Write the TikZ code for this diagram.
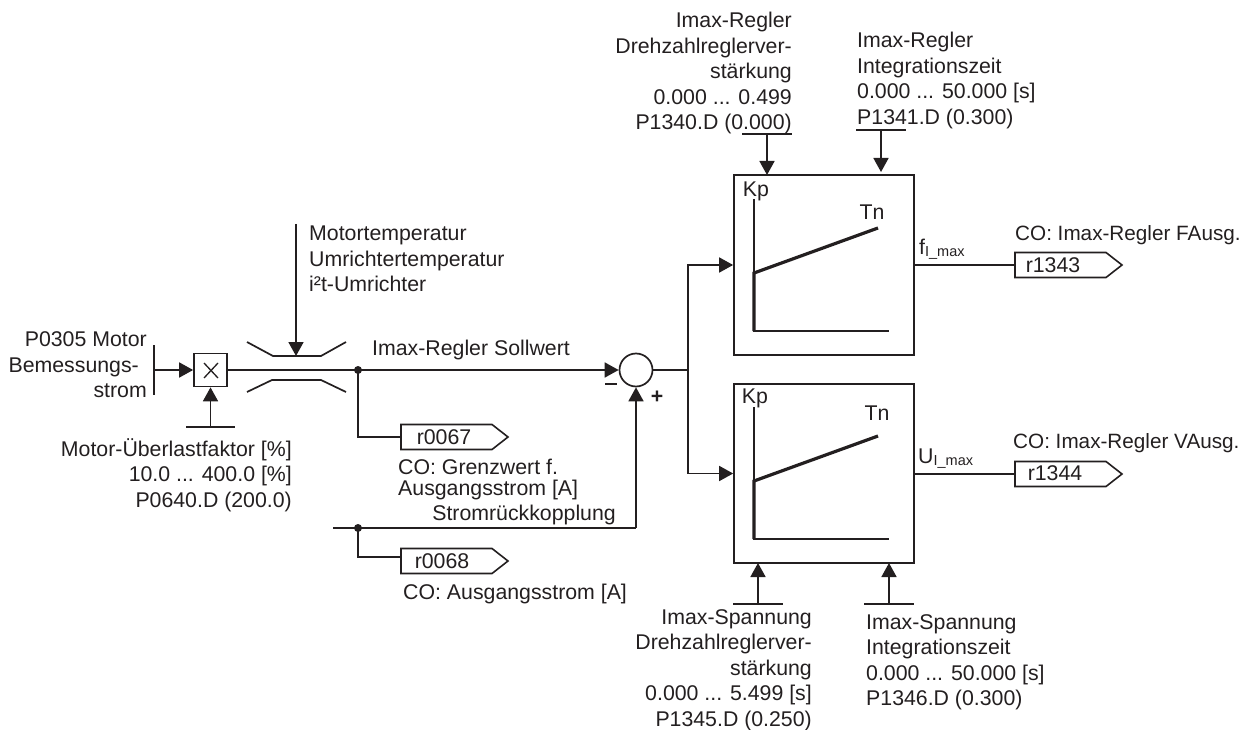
\documentclass[tikz,border=0pt]{standalone}
\usepackage{fontspec}
\setmainfont{Liberation Sans}
\usetikzlibrary{arrows.meta,calc}
\definecolor{inkline}{RGB}{35,31,32}
\tikzset{
  every node/.style={text=inkline,font=\fontsize{21.3}{25.5}\selectfont,inner sep=0pt},
  wire/.style={draw=inkline,line width=1.7pt},
  inarrow/.style={wire,-{Triangle[length=14pt,width=15pt]}},
  thin wire/.style={draw=inkline,line width=1.3pt},
  fatline/.style={draw=inkline,line width=3.2pt},
  outtag/.style={draw=inkline,line width=1.6pt,fill=white},
  colabel/.style={anchor=west,font=\fontsize{20.7}{25.5}\selectfont}
}
\newcommand{\rtag}[3]{% name, left x, mid y
  \draw[outtag] (#2,#3-12.5) -- ++(91,0) -- ++(16,12.5) -- ++(-16,12.5) -- ++(-91,0) -- cycle;
  \coordinate (#1) at (#2,#3);}
\begin{document}
\begin{tikzpicture}[x=1pt,y=-1pt,line join=miter]
  \useasboundingbox (0,0) rectangle (1259,730);
  % left part
  \node[draw=inkline,line width=1.7pt,minimum size=33pt] (mult) at (210.5,370) {};
  \draw[thin wire] (204,363) -- (218,378) (218,363) -- (204,378);
  \coordinate (barIn) at (154,370);
  \draw[wire] (154,345) -- (154,395);
  \draw[inarrow] (barIn) -- (mult.west);
  \coordinate (barOver) at (210.5,427);
  \draw[wire] (186,427) -- (235,427);
  \draw[inarrow] (barOver) -- (mult.south);
  \node[anchor=east,align=right] (nom) at (147,365) {P0305 Motor\\Bemessungs-\kern8pt\\strom};
  \node[anchor=north east,align=right] (over) at (292,438) {Motor-Überlastfaktor [\%]\\10.0 ... 400.0 [\%]\\P0640.D (200.0)};
  % limiter
  \draw[wire] (247,342) -- (273,356) -- (321,356) -- (346,342);
  \draw[wire] (247,392) -- (272,380) -- (321,380) -- (346,392);
  \coordinate (tempTop) at (296,224);
  \coordinate (tempEnd) at (296,356);
  \draw[inarrow] (tempTop) -- (tempEnd);
  \node[anchor=north west,align=left] (temp) at (309,226) {Motortemperatur\\Umrichtertemperatur\\i²t-Umrichter};
  % sum point
  \node[draw=inkline,line width=1.7pt,circle,minimum size=33pt] (sum) at (636,370) {};
  \coordinate (jA) at (358,370);
  \coordinate (jB) at (358,528);
  \coordinate (fbStart) at (333,528);
  \coordinate (fbCorner) at (636,528);
  \draw[wire] (mult.east) -- (jA);
  \draw[inarrow] (jA) -- (sum.west);
  \fill[inkline] (jA) circle (4pt) (jB) circle (4pt);
  \draw[wire] (fbStart) -- (fbCorner);
  \draw[inarrow] (fbCorner) -- (sum.south);
  \draw[wire] (605,384) -- (617,384);
  \node (plus) at (657,397) {\bfseries +};
  \node[anchor=west] (soll) at (372,350) {Imax-Regler Sollwert};
  \node[anchor=east] (rueck) at (616,515) {Stromrückkopplung};
  % output tags left
  \rtag{tagA}{401}{437}
  \rtag{tagB}{401}{561}
  \node at (444,437) {r0067};
  \node at (442,561) {r0068};
  \draw[wire] (jA) |- (tagA);
  \draw[wire] (jB) -- (358,557) -- (401,557);
  \node[anchor=north west,align=left] (coA) at (398,459) {CO: Grenzwert f.\\[-4.5pt]Ausgangsstrom [A]};
  \node[anchor=west] (coB) at (403,594) {CO: Ausgangsstrom [A]};
  % controller boxes
  \node[draw=inkline,line width=1.7pt,minimum width=180pt,minimum height=180pt] (boxF) at (824,265) {};
  \node[draw=inkline,line width=1.7pt,minimum width=180pt,minimum height=179pt] (boxU) at (824,473.5) {};
  \coordinate (bus) at (688,370);
  \draw[wire] (sum.east) -- (bus);
  \draw[inarrow] (bus) |- (boxF.west);
  \draw[inarrow] (bus) |- (boxU.west);
  % characteristic curves
  \foreach \b/\dy/\kx/\ky/\tx/\ty in {F/0/756/191/872/212,U/208/755/398/877/413} {
    \draw[thin wire] (754,199+\dy) -- (754,331+\dy) -- (889,331+\dy);
    \draw[fatline] (754,331+\dy) -- (754,273+\dy) -- (878,228+\dy);
    \node at (\kx,\ky) {Kp};
    \node at (\tx,\ty) {Tn};
  }
  % outputs
  \rtag{tagF}{1015}{265}
  \rtag{tagU}{1015}{474}
  \node at (1053,265) {r1343};
  \node at (1055,473) {r1344};
  \draw[thin wire] (boxF.east |- tagF) -- (tagF);
  \draw[thin wire] (boxU.east |- tagU) -- (tagU);
  \node[anchor=west] (fmax) at (919,249) {f\raisebox{-2pt}{\fontsize{14.5}{14.5}\selectfont I\_max}};
  \node[anchor=west] (umax) at (918,459) {U\raisebox{-2pt}{\fontsize{14.5}{14.5}\selectfont I\_max}};
  \node[colabel] (coF) at (1015,235) {CO: Imax-Regler FAusg.};
  \node[colabel] (coU) at (1013,443) {CO: Imax-Regler VAusg.};
  % parameters top
  \draw[wire] (742,134) -- (792,134) (856,130) -- (906,130);
  \coordinate (kpIn) at (767,134);
  \coordinate (tnIn) at (881,130);
  \draw[inarrow] (kpIn) -- (767,175);
  \draw[inarrow] (tnIn) -- (881,172);
  \node[anchor=north east,align=right] (kpTxt) at (792,12) {Imax-Regler\\Drehzahlreglerver-\\stärkung\\0.000 ... 0.499\\P1340.D (0.000)};
  \node[anchor=north west,align=left] (tnTxt) at (857,32) {Imax-Regler\\Integrationszeit\\0.000 ... 50.000 [s]\\P1341.D (0.300)};
  % parameters bottom
  \draw[wire] (733,604) -- (783,604) (864,604) -- (914,604);
  \coordinate (kuIn) at (758,604);
  \coordinate (tuIn) at (889,604);
  \draw[inarrow] (kuIn) -- (758,563);
  \draw[inarrow] (tuIn) -- (889,563);
  \node[anchor=north east,align=right] (kuTxt) at (812,609) {Imax-Spannung\\Drehzahlreglerver-\\stärkung\\0.000 ... 5.499 [s]\\P1345.D (0.250)};
  \node[anchor=north west,align=left] (tuTxt) at (866,614) {Imax-Spannung\\Integrationszeit\\0.000 ... 50.000 [s]\\P1346.D (0.300)};
\end{tikzpicture}
\end{document}
